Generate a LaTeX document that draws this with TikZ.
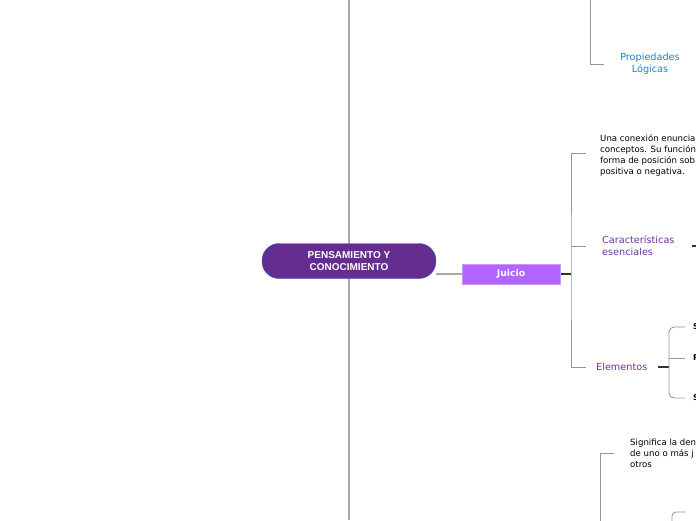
\documentclass[tikz,border=0pt]{standalone}
\usepackage{fontspec}
\setmainfont{Liberation Sans}
\newfontfamily\notefont{DejaVu Sans}
\usepackage{xcolor}
\usetikzlibrary{positioning, calc, backgrounds}
\definecolor{RootPurple}{RGB}{102,45,145}
\definecolor{RootBorder}{RGB}{52,98,196}
\definecolor{JuicioPurple}{RGB}{178,102,255}
\definecolor{JuicioBorder}{RGB}{200,150,255}
\definecolor{LabelPurple}{RGB}{112,48,160}
\definecolor{LabelBlue}{RGB}{30,128,196}
\definecolor{TrunkGray}{RGB}{170,170,170}
\definecolor{BranchGray}{RGB}{150,150,150}
\definecolor{LinkDark}{RGB}{50,50,50}

\begin{document}
\begin{tikzpicture}[x=1pt,y=-1pt,
    central/.style={draw=RootBorder,fill=RootPurple,text=white,rounded corners=17pt,
      minimum width=174pt,minimum height=35pt,inner sep=0pt,align=center,
      font=\bfseries\fontsize{10}{11.5}\selectfont},
    juicio/.style={draw=JuicioBorder,fill=JuicioPurple,text=white,
      minimum width=98pt,minimum height=20pt,inner sep=0pt,
      font=\notefont\bfseries\fontsize{9.3}{10}\selectfont},
    note/.style={inner sep=0pt,align=left,text=black,
      font=\notefont\fontsize{8.6}{11}\selectfont},
    topic/.style={inner sep=0pt,align=left,text=LabelPurple,
      font=\notefont\fontsize{9.7}{12}\selectfont},
    trunk/.style={TrunkGray,line width=1.6pt},
    branch/.style={BranchGray,line width=0.9pt},
    link/.style={LinkDark,line width=1.1pt}]
  \useasboundingbox (0,0) rectangle (696,520);
  \clip (0,0) rectangle (696,520);
  % Central topic
  \node[central] (root) at (349,261) {PENSAMIENTO Y\\CONOCIMIENTO};
  \node[juicio] (juicio) at (511,274) {Juicio};
  % Children of Juicio
  \node[note,anchor=north west] (conexion) at (600,134)
    {Una conexión enuncia\\conceptos. Su función\\forma de posición sob\\positiva o negativa.};
  \node[topic,anchor=west] (caract) at (602,246) {Características\\esenciales};
  \node[topic,anchor=west] (elem) at (596,367) {Elementos};
  % Elements (cut at the edge)
  \foreach \name/\y/\txt in {suj/327/S,pred/358/P,cop/398/S}{
    \node[inner sep=0pt,anchor=west,font=\notefont\bfseries\fontsize{8}{10}\selectfont] (\name) at (693,\y) {\txt};}
  % Branches above and below
  \node[align=center,inner sep=0pt,text=LabelBlue,
    font=\notefont\fontsize{9.7}{12}\selectfont] (prop) at (650,64) {Propiedades\\Lógicas};
  \node[note,anchor=north west] (significa) at (630,439)
    {Significa la den\\de uno o más j\\otros};
  \begin{pgfonlayer}{background}
    % Trunk
    \draw[trunk] (root.center |- 0,0) -- (root.center |- 0,520);
    \draw[TrunkGray,line width=1.1pt] (root.east |- juicio.west) -- (juicio.west);
    % Fork of Juicio
    \coordinate (jfork) at (571,274);
    \coordinate (c1) at (586,153);
    \coordinate (c2) at (586,246);
    \coordinate (c3) at (586,367);
    \draw[link] (juicio.east) -- (jfork);
    \draw[branch] (c1) -| (jfork) |- (c3);
    \draw[branch] (jfork |- c2) -- (c2);
    % Características goes on past the edge
    \draw[link] (692,246) -- (700,246);
    % Fork of Elementos
    \coordinate (efork) at (669,367);
    \draw[link] ([xshift=10pt]elem.east) -- (efork);
    \draw[branch,rounded corners=5pt] (685,327) -| (efork) |- (685,398);
    \draw[branch] (efork |- pred) -- (685,358);
    % Branch from above
    \draw[branch] (590,-5) |- (604,64);
    % Branch from below
    \draw[branch] (600,525) |- (614,453);
    \draw[branch,rounded corners=4pt] (672,525) |- (686,512);
  \end{pgfonlayer}
\end{tikzpicture}
\end{document}
